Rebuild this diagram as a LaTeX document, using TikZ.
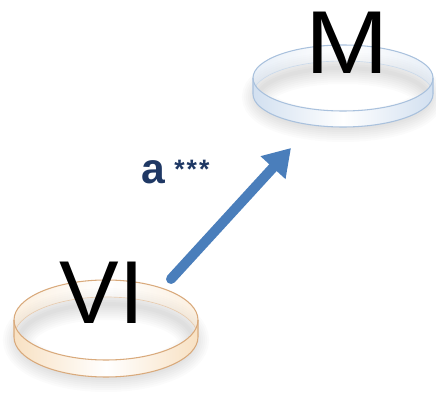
\documentclass[tikz,border=0pt]{standalone}
\usepackage{fontspec}
\setmainfont{Liberation Sans}
\usetikzlibrary{arrows.meta}
\definecolor{arrowblue}{HTML}{4A7EBB}
\definecolor{navy}{HTML}{1F3864}
\definecolor{medge}{HTML}{A9C1DD}
\definecolor{mside}{HTML}{D2E0F0}
\definecolor{vedge}{HTML}{D9AA7C}
\definecolor{vside}{HTML}{F8E1C3}
\newcommand\myring[7]{%
 \begin{scope}[shift={(#1,#2)}]
  \foreach \w in {3,6,...,24} \draw[black, opacity=0.014, line width=\w pt] (0,#5+3) ellipse [x radius=#3-5, y radius=#4-4];
  \shade[left color=#7, right color=#7, middle color=white, opacity=0.5]
    (-#3,0) arc[start angle=180,end angle=360,x radius=#3,y radius=#4]
    -- (#3,#5) arc[start angle=360,end angle=180,x radius=#3,y radius=#4] -- cycle;
  \draw[#6!60, line width=0.5pt] (-#3,#5) arc[start angle=180,end angle=360,x radius=#3,y radius=#4];
  \shade[left color=#7, right color=#7, middle color=white]
    (-#3,0) -- (-#3,#5) arc[start angle=180,end angle=0,x radius=#3,y radius=#4]
    -- (#3,0) arc[start angle=0,end angle=180,x radius=#3,y radius=#4] -- cycle;
  \draw[#6, line width=0.8pt] (0,0) ellipse [x radius=#3, y radius=#4];
  \draw[#6, line width=0.8pt] (-#3,0) -- (-#3,#5) arc[start angle=180,end angle=0,x radius=#3,y radius=#4] -- (#3,0);
 \end{scope}}
\begin{document}
\begin{tikzpicture}[x=0.75pt,y=-0.75pt]
\useasboundingbox (0,0) rectangle (436,403);
\tikzset{bigtext/.style={font=\fontsize{67}{67}\selectfont, text=black, inner sep=0pt, anchor=base}}
\myring{343}{78}{90}{33}{16}{medge}{mside}
\myring{106}{320}{92}{40}{17}{vedge}{vside}
\node[bigtext, xscale=1.12] (M) at (347.5,74) {M};
\node[bigtext] (VI) at (102,323) {VI};
\coordinate (tail) at (171,279);
\coordinate (tip) at (291,148);
\draw[arrowblue, line width=7.5pt, line cap=round, -{Triangle[width=24pt,length=20pt]}] (tail) -- (tip);
\node[anchor=base west, inner sep=0pt, text=navy, font=\bfseries\fontsize{32}{32}\selectfont] (lab) at (141,183)
  {a\hspace{7pt}\raisebox{3pt}{\fontsize{20}{20}\selectfont *\hspace{1.5pt}*\hspace{1.5pt}*}};
\end{tikzpicture}
\end{document}
